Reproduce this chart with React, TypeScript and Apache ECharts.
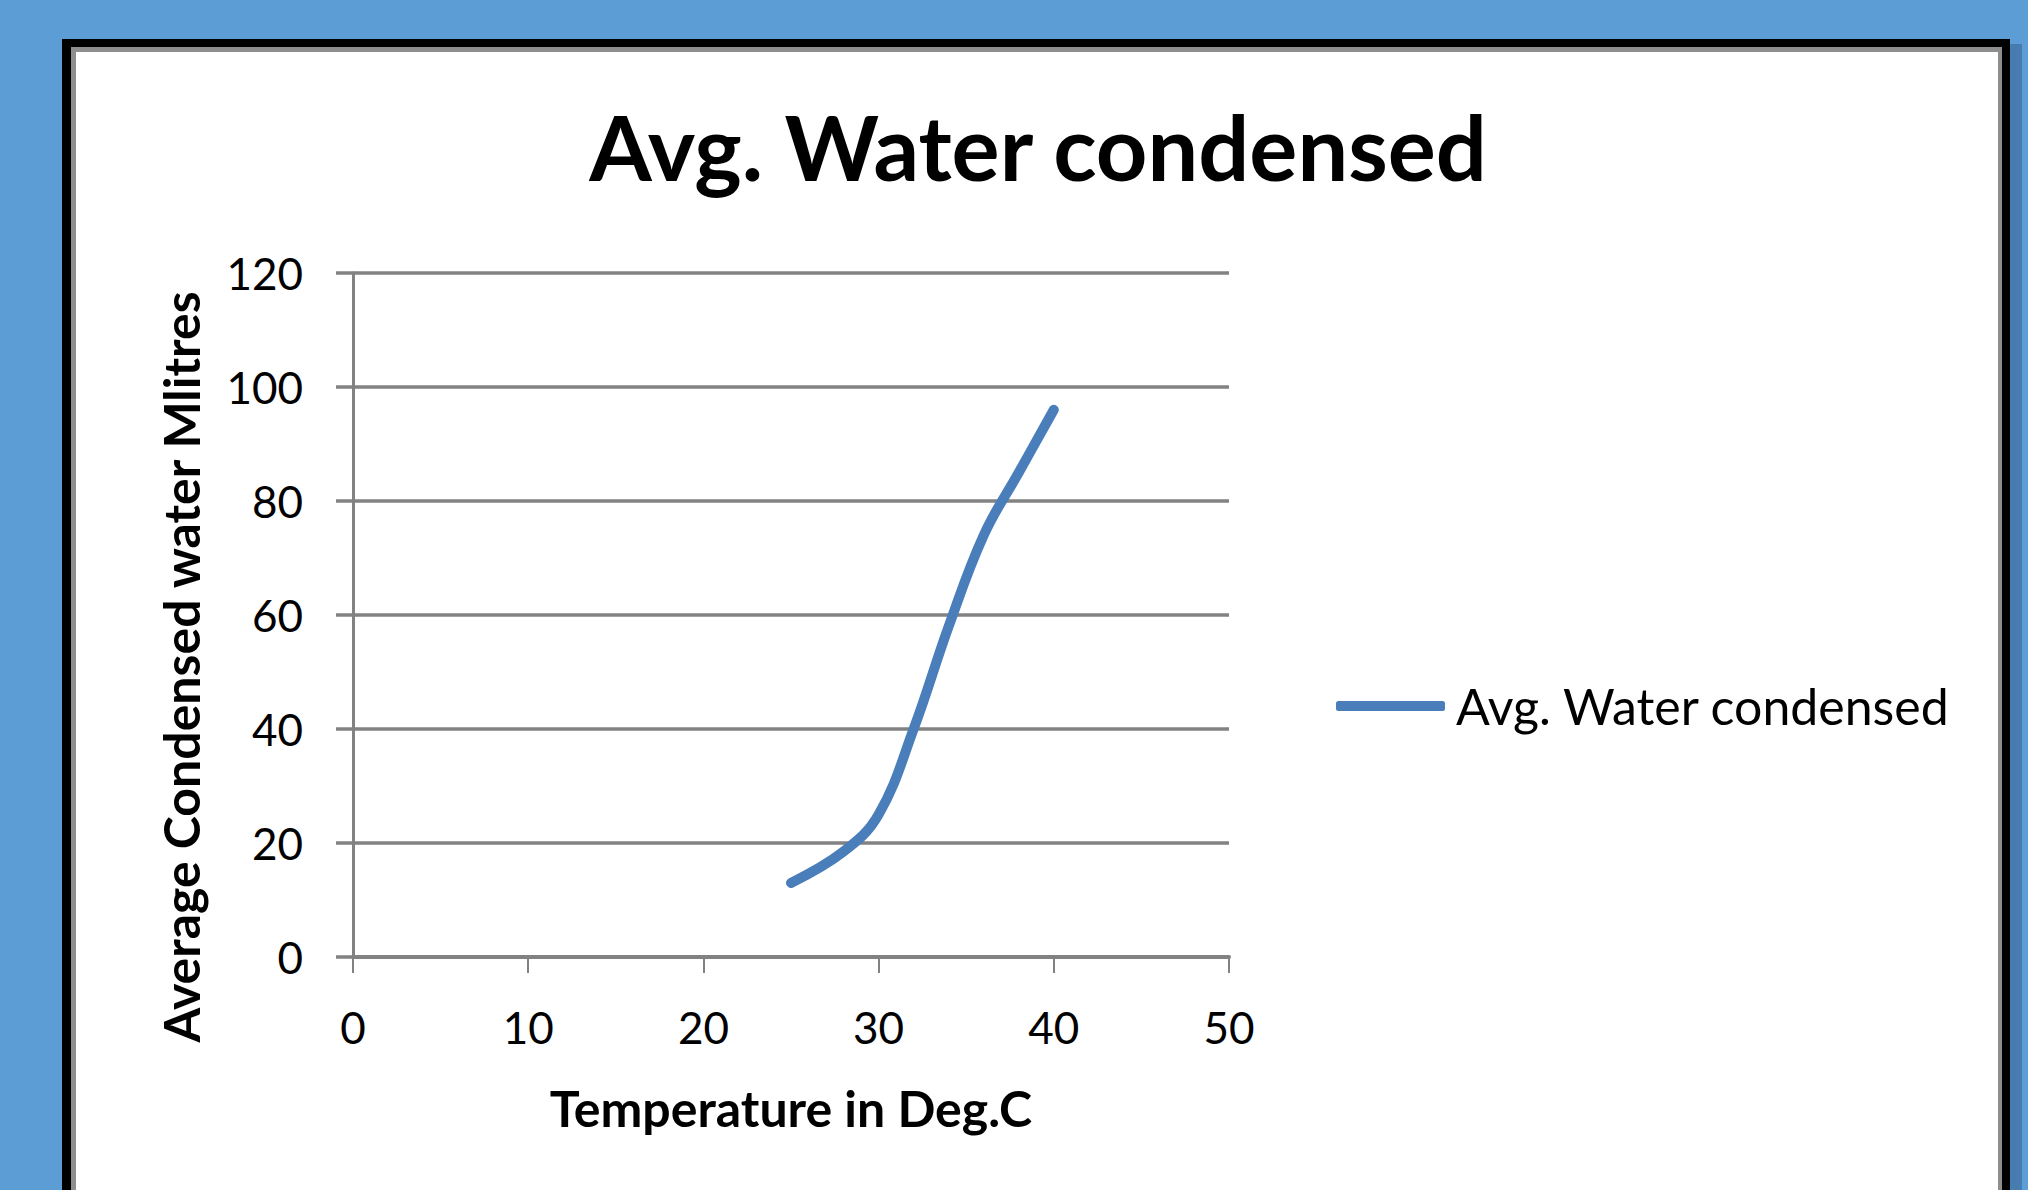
import React, { useEffect, useRef } from "react";
import * as echarts from "echarts";

const chartTitle = "Avg. Water condensed";
const seriesName = "Avg. Water condensed";
const xAxisTitle = "Temperature in Deg.C";
const yAxisTitle = "Average Condensed water Mlitres";
const temperatures = [25, 28, 30, 32, 34, 36, 38, 40];
const waterCondensed = [13, 18.5, 25, 40, 58, 74, 85, 96];
const xTicks = { min: 0, max: 50, interval: 10 };
const yTicks = { min: 0, max: 120, interval: 20 };

const FONT = "Lato";
const GRAY = "#828282";
const BLUE = "#4a7ebb";

export default function App() {
  const ref = useRef<HTMLDivElement>(null);
  useEffect(() => {
    document.body.style.margin = "0";
    const chart = echarts.init(ref.current!, undefined, { renderer: "svg" });
    const points = temperatures.map((t, i) => [t, waterCondensed[i]]);
    chart.setOption({
      animation: false,
      backgroundColor: "#5c9dd6",
      graphic: [
        { type: "rect", z: -10, shape: { x: 2010, y: 44, width: 12, height: 1160 }, style: { fill: "rgba(20,50,90,0.3)" } },
        { type: "rect", z: -10, shape: { x: 62, y: 39, width: 1948, height: 1200 }, style: { fill: "#000" } },
        { type: "rect", z: -10, shape: { x: 71, y: 47, width: 1931, height: 1200 }, style: { fill: "#8e8e8e" } },
        { type: "rect", z: -10, shape: { x: 76, y: 52, width: 1922, height: 1200 }, style: { fill: "#fff" } },
        {
          type: "text",
          x: 181,
          y: 667,
          rotation: Math.PI / 2,
          style: {
            text: yAxisTitle,
            font: `bold 50px ${FONT}`,
            fill: "#000",
            align: "center",
            verticalAlign: "middle",
          },
        },
      ],
      title: {
        text: chartTitle,
        left: 1038,
        textAlign: "center",
        top: 96,
        padding: 0,
        textStyle: { fontFamily: FONT, fontWeight: "bold", fontSize: 90, lineHeight: 100, color: "#000" },
      },
      legend: {
        left: 1336,
        top: 676,
        padding: 0,
        data: [seriesName],
        icon: "roundRect",
        itemWidth: 109,
        itemHeight: 10,
        textStyle: { fontFamily: FONT, fontSize: 50, lineHeight: 60, color: "#000", padding: [0, 0, 0, 6] },
      },
      grid: { left: 353, top: 273, width: 876, height: 684, containLabel: false },
      xAxis: {
        type: "value",
        min: xTicks.min,
        max: xTicks.max,
        interval: xTicks.interval,
        name: xAxisTitle,
        nameLocation: "middle",
        nameGap: 121,
        nameTextStyle: { fontFamily: FONT, fontWeight: "bold", fontSize: 50, lineHeight: 60, color: "#000" },
        axisLine: { show: true, lineStyle: { color: GRAY, width: 4 } },
        axisTick: { show: true, inside: false, length: 16, lineStyle: { color: GRAY, width: 2 } },
        axisLabel: { fontFamily: FONT, fontSize: 44, lineHeight: 52, color: "#000", margin: 44 },
        splitLine: { show: false },
      },
      yAxis: {
        type: "value",
        min: yTicks.min,
        max: yTicks.max,
        interval: yTicks.interval,
        axisLine: { show: true, lineStyle: { color: GRAY, width: 3 } },
        axisTick: { show: true, inside: false, length: 17, lineStyle: { color: GRAY, width: 3.5 } },
        axisLabel: { fontFamily: FONT, fontSize: 44, color: "#000", margin: 50 },
        splitLine: { show: true, lineStyle: { color: GRAY, width: 3.5 } },
      },
      series: [
        {
          name: seriesName,
          type: "line",
          data: points,
          smooth: 0.4,
          showSymbol: false,
          symbol: "none",
          color: BLUE,
          lineStyle: { color: BLUE, width: 10, cap: "round", join: "round" },
        },
      ],
    });
    return () => chart.dispose();
  }, []);
  return <div ref={ref} style={{ width: 2028, height: 1190 }} />;
}
